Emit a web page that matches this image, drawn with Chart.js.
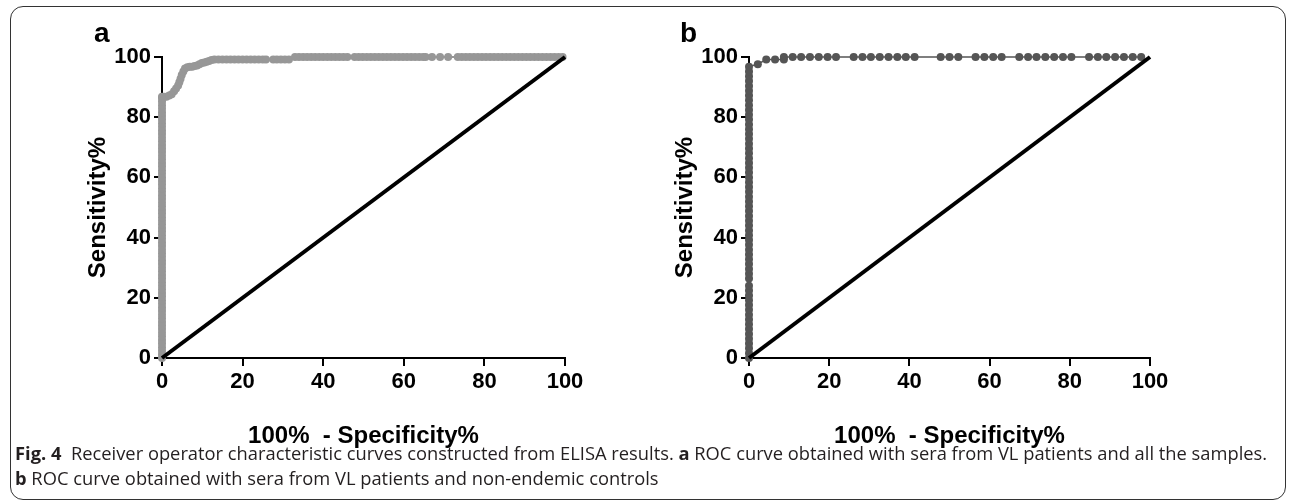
<!DOCTYPE html>
<html>
<head>
<meta charset="utf-8">
<script src="https://cdn.jsdelivr.net/npm/chart.js@4.4.1/dist/chart.umd.min.js"></script>
<style>
  html, body { margin: 0; padding: 0; background: #fff; }
  body { width: 1295px; height: 501px; position: relative; overflow: hidden; }
  .frame {
    position: absolute; left: 10px; top: 6px; width: 1276px; height: 494px;
    border: 1.5px solid #333; border-radius: 13px; box-sizing: border-box;
  }
  .panel { position: absolute; top: 0; }
  #wrapA { left: 0; }
  #wrapB { left: 587px; }
  .letter {
    position: absolute; top: 19px; font: bold 28px 'Liberation Sans', Arial, sans-serif;
    line-height: 28px; color: #000;
  }
  #caption {
    position: absolute; left: 15px; top: 440px; font-family: 'Open Sans', sans-serif;
    font-size: 15.5px; line-height: 25px; color: #231f20; white-space: nowrap;
  }
  #caption b { font-weight: 700; }
</style>
</head>
<body>
<div class="frame"></div>
<div class="panel" id="wrapA"><canvas id="rocA" width="640" height="470"></canvas></div>
<div class="panel" id="wrapB"><canvas id="rocB" width="640" height="470"></canvas></div>
<div class="letter" style="left:94px">a</div>
<div class="letter" style="left:680px">b</div>
<div id="caption">
  <div><span id="capLine1"><b>Fig. 4</b>&nbsp; Receiver operator characteristic curves constructed from ELISA results. <b>a</b> ROC curve obtained with sera from VL patients and all the samples.</span></div>
  <div><b>b</b> ROC curve obtained with sera from VL patients and non-endemic controls</div>
</div>
<script>
const xTicks = [0, 20, 40, 60, 80, 100]
const yTicks = [0, 20, 40, 60, 80, 100]
const xTitle = '100%  - Specificity%'
const yTitle = 'Sensitivity%'
const diagonalX = [0, 100]
const diagonalY = [0, 100]

// panel a: VL patients vs all samples
const vertSensA = [0, 1.2, 2.4, 3.6, 4.8, 6, 7.2, 8.4, 9.6, 10.8, 12, 13.2, 14.4, 15.6, 16.8, 18,
  19.2, 20.4, 21.6, 22.8, 24, 25.2, 26.4, 27.6, 28.8, 30, 31.2, 32.4, 33.6, 34.8, 36, 37.2, 38.4,
  39.6, 40.8, 42, 43.2, 44.4, 45.6, 46.8, 48, 49.2, 50.4, 51.6, 52.8, 54, 55.2, 56.4, 57.6, 58.8,
  60, 61.2, 62.4, 63.6, 64.8, 66, 67.2, 68.4, 69.6, 70.8, 72, 73.2, 74.4, 75.6, 76.8, 78, 79.2,
  80.4, 81.6, 82.8, 84, 85.2, 86.4, 86.8]
const riseFprA = [0.5, 1.1, 1.8, 2.4, 3.0, 3.5, 4.0, 4.3, 4.6, 4.9, 5.3, 5.7, 6.3, 6.9, 7.5, 8.1,
  8.7, 9.3, 9.9, 10.5, 11.1, 11.7, 12.3]
const riseSensA = [86.8, 86.8, 87.2, 87.6, 88.6, 89.5, 90.5, 91.6, 92.8, 94.0, 95.2, 96.2, 96.6,
  96.8, 96.8, 97.0, 97.2, 97.6, 98.0, 98.2, 98.4, 98.7, 99.0]
const fpr99A = [13, 14, 15, 16, 17, 18, 19, 20, 21, 22, 23, 24, 25, 25.8, 27.6, 28.5, 29.5, 30.5,
  31.5]
const fpr100A = [33, 34, 35, 36, 37, 38, 39, 40, 41, 42, 43, 44, 45, 46, 47.8, 48.8, 49.8, 50.8,
  51.8, 52.8, 53.8, 54.8, 55.8, 56.8, 57.8, 58.8, 59.8, 60.8, 61.8, 62.8, 63.8, 64.8, 65.4, 67, 69,
  71, 73.4, 74.4, 75.4, 76.4, 77.4, 78.4, 79.4, 80.4, 81.4, 82.4, 83.4, 84.4, 85.4, 86.4, 87.4,
  88.4, 89.4, 90.4, 91.4, 92.4, 93.4, 94.4, 95.4, 96.4, 97.4, 98.4, 99.4]

// panel b: VL patients vs non-endemic controls
const vertSensB = [0, 1.6, 3.2, 4.8, 6.4, 8, 9.6, 11.2, 12.8, 14.4, 16, 17.6, 19.2, 20.8, 22.4, 24,
  26.4, 28, 29.6, 31.2, 32.8, 34.4, 36, 37.6, 39.2, 40.8, 42.4, 44, 45.6, 47.2, 48.8, 50.4, 52,
  53.6, 55.2, 56.8, 58.4, 60, 61.6, 63.2, 64.8, 66.4, 68, 69.6, 71.2, 72.8, 74.4, 76, 77.6, 79.2,
  80.8, 82.4, 84, 85.6, 87.2, 88.8, 90.4, 92, 93.6, 95.2, 96.8]
const riseFprB = [2.2, 4.3, 6.5, 8.7]
const riseSensB = [97.6, 99.2, 99.2, 99.2]
const fpr100B = [8.7, 10.9, 13.0, 15.2, 17.4, 19.6, 21.7, 26.1, 28.3, 30.4, 32.6, 34.8, 37.0, 39.1,
  41.3, 47.8, 50.0, 52.2, 56.5, 58.7, 60.9, 63.0, 67.4, 69.6, 71.7, 73.9, 76.1, 78.3, 80.4, 84.8,
  87.0, 89.1, 91.3, 93.5, 95.7, 97.8]

const captionWidth = 1253

Chart.defaults.font.family = "'Liberation Sans', Arial, sans-serif"
Chart.defaults.color = '#000'

function curvePoints(vertSens, riseFpr, riseSens, fpr99, fpr100) {
  let pts = vertSens.map(s => ({ x: 0, y: s }))
  riseFpr.forEach((f, i) => pts.push({ x: f, y: riseSens[i] }))
  fpr99.forEach(f => pts.push({ x: f, y: 99.2 }))
  fpr100.forEach(f => pts.push({ x: f, y: 100 }))
  return pts
}

function axis(ticks, title, isX) {
  return {
    type: 'linear',
    min: ticks[0],
    max: ticks[ticks.length - 1],
    afterBuildTicks: s => { s.ticks = ticks.map(v => ({ value: v })) },
    afterFit: s => {
      if (isX) s.height = 93
      else s.width = 78
    },
    grid: {
      display: true,
      drawOnChartArea: false,
      drawTicks: true,
      tickLength: 8,
      color: '#000',
      lineWidth: 2,
    },
    border: { display: true, color: '#000', width: 2 },
    ticks: {
      color: '#000',
      padding: 3,
      maxRotation: 0,
      autoSkip: false,
      font: { size: 22, weight: 'bold' },
    },
    title: {
      display: true,
      text: title,
      color: '#000',
      padding: 0,
      font: { size: 24, weight: 'bold' },
    },
  }
}

function drawRoc(canvasId, points, color, lineWidth, padRight) {
  new Chart(document.getElementById(canvasId), {
    type: 'scatter',
    data: {
      datasets: [
        {
          data: diagonalX.map((x, i) => ({ x: x, y: diagonalY[i] })),
          showLine: true,
          borderColor: '#000',
          borderWidth: 4,
          pointRadius: 0,
          clip: false,
        },
        {
          data: points,
          showLine: true,
          borderColor: color,
          borderWidth: lineWidth,
          pointRadius: 4,
          pointBorderWidth: 0,
          pointBackgroundColor: color,
          clip: false,
        },
      ],
    },
    options: {
      responsive: false,
      animation: false,
      events: [],
      layout: { padding: { left: 84, right: padRight, top: 57, bottom: 19 } },
      plugins: { legend: { display: false }, tooltip: { enabled: false } },
      scales: {
        x: axis(xTicks, xTitle, true),
        y: axis(yTicks, yTitle, false),
      },
    },
  })
}

drawRoc('rocA', curvePoints(vertSensA, riseFprA, riseSensA, fpr99A, fpr100A), '#979797', 2, 75)
drawRoc('rocB', curvePoints(vertSensB, riseFprB, riseSensB, [], fpr100B), '#555555', 1.5, 77)

function fitCaption() {
  let cap = document.getElementById('caption')
  let w = document.getElementById('capLine1').getBoundingClientRect().width
  let size = parseFloat(getComputedStyle(cap).fontSize)
  cap.style.fontSize = (size * captionWidth / w) + 'px'
}
fitCaption()
</script>
</body>
</html>
